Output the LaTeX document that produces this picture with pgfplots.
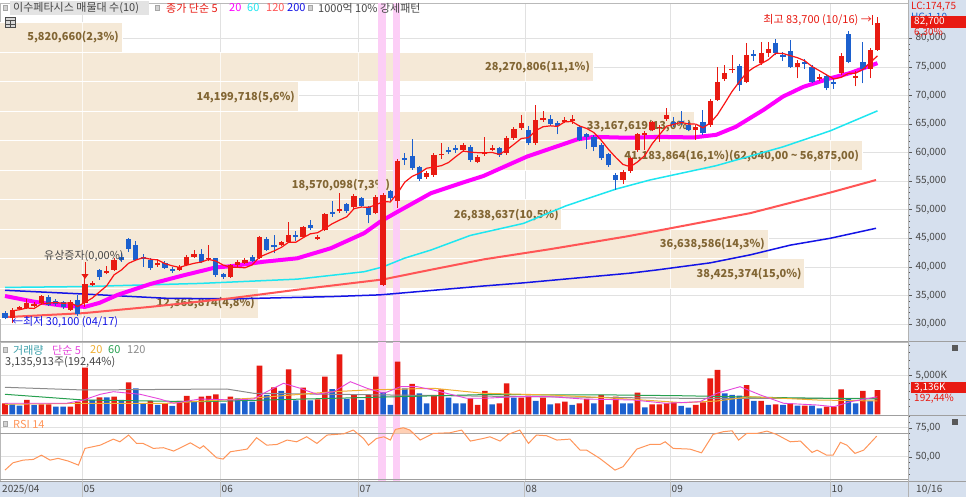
\documentclass[border=0pt]{standalone}
\usepackage{pgfplots}
\pgfplotsset{compat=1.18}
\usepackage{pgfplotstable}
\usepackage{fontspec}
\setmainfont{Noto Sans CJK KR}
\usetikzlibrary{arrows.meta}

\definecolor{cred}{RGB}{232,26,18}
\definecolor{cblue}{RGB}{28,96,206}
\definecolor{beige}{RGB}{245,233,215}
\definecolor{bandtxt}{RGB}{130,102,52}
\definecolor{cpink}{RGB}{252,206,246}
\definecolor{cpanel}{RGB}{214,224,238}
\definecolor{cgrid}{RGB}{225,225,225}
\definecolor{ma5}{RGB}{250,20,20}
\definecolor{ma20}{RGB}{255,0,255}
\definecolor{ma60}{RGB}{30,230,240}
\definecolor{ma120}{RGB}{255,85,85}
\definecolor{ma200}{RGB}{20,20,230}
\definecolor{txt}{RGB}{70,70,70}
\definecolor{vteal}{RGB}{60,160,170}
\definecolor{vmag}{RGB}{230,70,220}
\definecolor{vorange}{RGB}{240,175,50}
\definecolor{vgreen}{RGB}{40,160,80}
\definecolor{vgray}{RGB}{140,140,140}
\definecolor{rsi}{RGB}{255,150,90}

\newcommand\f{\fontsize{10}{12}\selectfont}
\newcommand\fk{\fontsize{11}{13}\selectfont}
\newcommand\fb{\fontsize{11}{13}\selectfont\bfseries}

% candles: i open high low close
\pgfplotstableread{
i o h l c
1 31000 32800 30100 32500
2 32600 33200 32400 33000
3 32800 34400 32600 33600
4 33100 33900 32900 33500
5 33600 35100 33400 34900
9 32500 34200 32300 33900
11 33600 38000 33000 37000
12 36900 37500 36600 37200
14 38900 40200 38700 39300
15 39500 41500 39300 41200
21 40300 41300 40000 40600
24 39500 40300 39300 40000
25 40300 42000 40100 41800
26 41800 42900 41500 42200
28 41300 43800 41000 41600
31 38300 40500 38100 40300
32 40400 41200 40000 40800
33 40700 41500 40500 41200
35 41500 45400 41300 45200
38 43900 44600 43700 44300
39 44400 47900 44200 45600
41 45200 47200 45000 47000
43 44900 45500 44700 45300
44 46500 49500 46300 49300
46 49700 52900 49500 50200
48 50400 52700 50200 52400
51 49400 52600 49200 52300
52 36800 53000 36600 52600
54 51500 58800 50300 58500
58 55800 56700 55400 56400
59 56100 59900 55800 59600
60 59500 61700 58900 59800
63 60500 61700 60200 61300
65 58400 59600 58100 59300
66 59700 62800 59400 60000
67 60500 61300 60200 60800
69 59900 62900 59600 62600
70 62500 64500 62200 64200
71 64300 66600 64000 65100
73 61700 68400 61400 65700
74 65700 67200 65400 66000
77 65400 66300 65100 65700
78 65500 66500 65000 65800
85 55200 57000 54500 56600
86 56800 59300 56500 59000
87 60400 63500 60100 63200
88 63100 63800 60500 63400
89 63900 65600 63700 65400
90 64300 64900 61900 64500
91 65900 67800 65600 66600
95 64000 64800 62200 64400
97 64800 69300 64500 69000
98 69200 75000 69000 72400
99 72900 75400 72500 74000
100 74400 77000 74000 74700
102 72400 79100 72100 77000
104 75600 79400 75300 77400
105 77400 79300 76800 78200
109 75000 76200 73000 75600
112 72900 73800 72500 73200
115 73900 77500 73500 76900
117 73100 74200 71600 73400
119 74700 78300 73000 78000
120 78000 83700 77800 82700
}\candup

\pgfplotstableread{
i o h l c
0 32000 32200 30800 31000
6 34800 35100 33100 33300
7 34000 34400 33200 33500
8 33900 34000 32700 32900
10 34200 35000 31400 31700
13 39400 39600 37700 38300
16 41800 42400 40900 41200
17 44900 45000 42600 43100
18 43800 44600 41000 41200
19 41700 42200 40000 41400
20 41200 41500 39500 39800
22 40600 41000 39600 39800
23 39700 39900 38900 39300
27 42200 43200 40600 40900
29 41500 41600 38300 38600
30 38700 39000 37900 38300
34 41700 42000 40800 41100
36 44800 45300 42800 43000
37 43800 45500 42400 43400
40 45500 46200 44500 45200
42 47300 48200 46500 46800
45 49600 51600 48800 49300
47 51000 51200 49400 49700
49 52000 52300 50500 50700
50 50400 50600 47600 49100
53 53200 53500 51600 52100
55 59000 59900 57800 58700
56 59400 62300 57000 57300
57 57500 57700 55100 55400
61 60400 61000 59700 60100
62 60800 61300 60000 60500
64 61000 61400 58400 58700
68 60800 61000 59300 59600
72 64000 64600 61300 61600
75 65800 66600 64600 65000
76 65100 65500 63200 64600
79 64500 64800 62000 62200
80 63200 63500 60600 62800
81 62800 63000 60200 61000
82 61400 61600 58700 59000
83 59700 60000 57500 57800
84 56000 56500 53500 55200
92 65400 66200 64500 64800
93 65500 67200 64800 65100
94 64800 65300 63700 64000
96 65400 67400 63100 63400
101 75200 75500 70800 71800
103 77200 78000 76000 76900
106 79100 79900 77000 77400
107 77100 77600 76000 76800
108 77800 79700 74800 75000
110 75900 76300 74600 75500
111 75000 75300 72100 72400
113 73400 73700 70900 71300
114 72300 73000 71200 72000
116 80700 81200 75600 75900
118 75900 79400 72100 74600
}\canddn

% volume in thousands of shares
\pgfplotstableread{
i v
0 1425
3 1852
5 1295
6 1295
9 984
10 1632
11 6035
13 2202
15 2279
17 4144
20 1722
22 1425
24 1722
25 2370
27 2279
28 2370
29 2590
31 2279
35 6294
37 3497
39 5828
41 3445
43 1943
44 4869
46 7770
48 2590
50 2499
51 4869
54 6812
56 3924
59 2499
60 3238
64 2072
65 1204
66 3017
68 1425
69 4015
71 2150
72 2409
74 2150
76 1425
77 1632
79 1425
80 1981
82 2499
84 2279
87 2797
89 1295
90 1295
91 1425
92 1554
95 1204
96 1554
97 4662
98 5737
102 3794
104 1722
106 1295
108 1425
110 1114
113 984
114 984
115 3238
118 3017
120 3136
}\volup

\pgfplotstableread{
i v
1 1295
2 1114
4 1204
7 984
8 984
12 1852
14 2202
16 1852
18 3367
19 1425
21 1204
23 1075
26 1722
30 1425
32 2072
33 2072
34 1632
36 2499
38 3017
40 1813
42 1813
45 3276
47 1981
49 1852
52 2849
53 1204
55 3367
57 2720
58 1425
61 2150
62 1425
63 1425
67 1295
70 2150
73 1722
75 1295
78 1204
81 1425
83 1295
85 1425
86 1425
88 906
93 1075
94 855
99 2720
100 2499
101 2409
103 1722
105 1204
107 1204
109 1114
111 1114
112 777
116 2072
117 1425
119 1722
}\voldn

\pgfplotsset{
  panel/.style={
    scale only axis, width=908pt,
    xmin=-0.688, xmax=124.2,
    xtick={10.6,29.6,48.6,71.5,91.5,113.5},
    xticklabels={},
    xmajorgrids, ymajorgrids,
    grid style={draw=cgrid, line width=0.6pt},
    axis line style={draw=gray!55},
    ytick pos=right, yticklabel pos=right,
    tick align=outside,
    major tick length=4pt, minor tick length=2pt,
    xtick style={draw=none},
    ytick style={draw=gray!70!black, line width=0.5pt},
    minor tick style={draw=gray!70!black, line width=0.4pt},
    yticklabel style={font=\f, text=txt},
  },
  wick/.style={draw=none, mark=none, forget plot,
    error bars/.cd, y dir=plus, y explicit, error mark=none,
    error bar style={draw=#1, line width=1pt}},
  body/.style={draw=none, mark=none, forget plot,
    error bars/.cd, y dir=plus, y explicit, error mark=none,
    error bar style={draw=#1, line width=5.2pt}},
  band/.style={fill=beige, draw=white, line width=1pt, forget plot},
  pinkband/.style={fill=cpink, draw=none, forget plot},
}

\begin{document}
\begin{tikzpicture}
\begin{scope}[x=1pt,y=1pt]
\fill[white] (0,0) rectangle (966,-497);
\fill[cpanel] (908,0) rectangle (966,-497);
\fill[cpanel] (0,-481) rectangle (966,-497);
\end{scope}

% ---------------- price panel ----------------
\begin{axis}[panel, name=price, at={(0pt,-3pt)}, anchor=north west, height=338pt,
  ymin=27025, ymax=86175,
  ytick={30000,35000,...,80000}, minor y tick num=4,
  scaled y ticks=false,
  /pgf/number format/fixed,
  /pgf/number format/1000 sep={,},
  /pgf/number format/assume math mode=true]

% volume-at-price bands
\addplot[band] coordinates {(-1,31050) (34.8,31050) (34.8,36215) (-1,36215)} --cycle;
\addplot[band] coordinates {(-1,36215) (110.0,36215) (110.0,41380) (-1,41380)} --cycle;
\addplot[band] coordinates {(-1,41380) (104.95,41380) (104.95,46545) (-1,46545)} --cycle;
\addplot[band] coordinates {(-1,46545) (76.6,46545) (76.6,51710) (-1,51710)} --cycle;
\addplot[band] coordinates {(-1,51710) (53.4,51710) (53.4,56875) (-1,56875)} --cycle;
\addplot[band] coordinates {(-1,56875) (117.9,56875) (117.9,62040) (-1,62040)} --cycle;
\addplot[band] coordinates {(-1,62040) (94.9,62040) (94.9,67205) (-1,67205)} --cycle;
\addplot[band] coordinates {(-1,67205) (40.3,67205) (40.3,72370) (-1,72370)} --cycle;
\addplot[band] coordinates {(-1,72370) (80.9,72370) (80.9,77535) (-1,77535)} --cycle;
\addplot[band] coordinates {(-1,77535) (16.1,77535) (16.1,82700) (-1,82700)} --cycle;

% month lines showing through the bands
\draw[white, opacity=0.75, line width=0.6pt]
  (axis cs:10.6,31050) -- (axis cs:10.6,82700)
  (axis cs:29.6,31050) -- (axis cs:29.6,77535)
  (axis cs:48.6,36215) -- (axis cs:48.6,67205)
  (axis cs:48.6,72370) -- (axis cs:48.6,77535)
  (axis cs:71.5,36215) -- (axis cs:71.5,51710)
  (axis cs:71.5,56875) -- (axis cs:71.5,67205)
  (axis cs:71.5,72370) -- (axis cs:71.5,77535)
  (axis cs:91.5,36215) -- (axis cs:91.5,46545)
  (axis cs:91.5,56875) -- (axis cs:91.5,67205)
  (axis cs:113.5,56875) -- (axis cs:113.5,62040);

\begin{scope}[every node/.style={font=\fb, text=bandtxt, anchor=east, inner sep=0pt, xshift=-3pt}]
\node at (axis cs:34.8,33632) {12,365,874(4,8\%)};
\node at (axis cs:110.0,38797) {38,425,374(15,0\%)};
\node at (axis cs:104.95,43962) {36,638,586(14,3\%)};
\node at (axis cs:76.6,49127) {26,838,637(10,5\%)};
\node at (axis cs:53.4,54292) {18,570,098(7,3\%)};
\node at (axis cs:117.9,59457) {41,183,864(16,1\%)(62,040,00 \textasciitilde{} 56,875,00)};
\node at (axis cs:94.9,64622) {33,167,619(13,0\%)};
\node at (axis cs:40.3,69787) {14,199,718(5,6\%)};
\node at (axis cs:80.9,74952) {28,270,806(11,1\%)};
\node at (axis cs:16.1,80117) {5,820,660(2,3\%)};
\end{scope}

\addplot[pinkband] coordinates {(51.3,27025) (52.4,27025) (52.4,86175) (51.3,86175)} --cycle;
\addplot[pinkband] coordinates {(53.4,27025) (54.3,27025) (54.3,86175) (53.4,86175)} --cycle;

% moving averages
\addplot[ma200, line width=1.5pt] coordinates {(0,35900) (10.8,35250) (22.2,34500) (31.4,34400) (45,34800) (51.6,35100) (65.8,36650) (71.3,37200) (86,38900) (89.6,39450) (97,40700) (102.5,42100) (108,43800) (113.5,45000) (119.8,46750)};
\addplot[ma120, line width=2pt] coordinates {(0,31200) (10.8,31900) (20,33000) (31,34500) (40.2,36000) (52,37800) (58.6,39500) (65.8,41300) (75,43100) (85.4,45300) (90.9,46600) (102.5,49400) (113.5,53000) (119.8,55200)};
\addplot[ma60, line width=1.5pt] coordinates {(0,36400) (10.8,36550) (26.8,37100) (40.2,37850) (49.4,39150) (52,40000) (54.9,41500) (58.6,42950) (64,45500) (71.3,47600) (77.2,50700) (84,53600) (88.7,55200) (97.8,57700) (107,61000) (113.5,63800) (120,67300)};
\addplot[ma20, line width=4pt] coordinates {(0,34900) (4,33900) (8,33200) (11,33000) (13,33700) (15.5,35100) (20,37000) (24.5,38500) (29,39900) (31,40100) (35.6,40900) (40.2,41500) (44.8,43250) (49.4,45900) (51.6,47900) (54,49650) (58.6,52900) (62.6,54600) (65.8,55900) (71.8,59300) (76.4,61300) (78.7,62300) (81,62750) (85.5,62600) (90,62750) (94.7,62650) (97.8,63100) (100.5,64500) (104.3,67450) (107,69800) (109.8,71500) (113.5,73000) (116.2,73900) (120,75650)};

% candles
\addplot[wick=cred] table[x=i, y=l, y error expr=\thisrow{h}-\thisrow{l}] {\candup};
\addplot[body=cred] table[x=i, y=o, y error expr=\thisrow{c}-\thisrow{o}] {\candup};
\addplot[wick=cblue] table[x=i, y=l, y error expr=\thisrow{h}-\thisrow{l}] {\canddn};
\addplot[body=cblue] table[x=i, y=c, y error expr=\thisrow{o}-\thisrow{c}] {\canddn};

\addplot[ma5, line width=1.2pt] coordinates {(1,32300) (2,32500) (3,32800) (4,32720) (5,33500) (6,33660) (7,33760) (8,33620) (9,33700) (10,33060) (11,33800) (12,34540) (13,35620) (14,36700) (15,38600) (16,39440) (17,40620) (18,41200) (19,41620) (20,41340) (21,41220) (22,40560) (23,40180) (24,39900) (25,40300) (26,40620) (27,40840) (28,41300) (29,41020) (30,40320) (31,39940) (32,39920) (33,39840) (34,40340) (35,41720) (36,42260) (37,42780) (38,43400) (39,44300) (40,44300) (41,45100) (42,45780) (43,45980) (44,46720) (45,47540) (46,48180) (47,48760) (48,50180) (49,50460) (50,50420) (51,50840) (52,51420) (53,51360) (54,52920) (55,54840) (56,55840) (57,56400) (58,57260) (59,57480) (60,57700) (61,58260) (62,59280) (63,60260) (64,60080) (65,59980) (66,59960) (67,60020) (68,59680) (69,60460) (70,61440) (71,62460) (72,62620) (73,63840) (74,64520) (75,64680) (76,64580) (77,65400) (78,65420) (79,64660) (80,64220) (81,63500) (82,62160) (83,60560) (84,59160) (85,57920) (86,57520) (87,58360) (88,59480) (89,61520) (90,63100) (91,64620) (92,64940) (93,65280) (94,65000) (95,64980) (96,64340) (97,65180) (98,66640) (99,68640) (100,70700) (101,72380) (102,73980) (103,74880) (104,75560) (105,76260) (106,77380) (107,77340) (108,76960) (109,76600) (110,76060) (111,75060) (112,74340) (113,73600) (114,72880) (115,73160) (116,73860) (117,73900) (118,74560) (119,75760) (120,76920)};
\end{axis}

% ---------------- volume panel ----------------
\begin{axis}[panel, name=vol, at={(price.south west)}, anchor=north west, yshift=-0.7pt, height=73.3pt,
  ymin=-91, ymax=9402,
  ytick={5000}, yticklabels={5{,}000K},
  minor ytick={1000,2000,3000,4000,6000,7000,8000,9000}]
\addplot[pinkband] coordinates {(51.3,-91) (52.4,-91) (52.4,9402) (51.3,9402)} --cycle;
\addplot[pinkband] coordinates {(53.4,-91) (54.3,-91) (54.3,9402) (53.4,9402)} --cycle;
\addplot[ybar, bar width=5.6pt, bar shift=0pt, fill=cred, draw=none] table[x=i, y=v] {\volup};
\addplot[ybar, bar width=5.6pt, bar shift=0pt, fill=cblue, draw=none] table[x=i, y=v] {\voldn};
\addplot[vgray, line width=1pt] coordinates {(0,3497) (10.8,3147) (30.5,3276) (34.2,2720) (45.2,2590) (65.8,2350) (93.3,2072) (120,2072)};
\addplot[vgreen, line width=1pt] coordinates {(0,2590) (10.8,1852) (26.8,1632) (45.2,2072) (65.8,2550) (84.1,2499) (93.3,2400) (107,2150) (120,1981)};
\addplot[vorange, line width=1pt] coordinates {(0,1295) (10.8,1425) (22.2,1425) (33.7,2072) (45.2,2927) (49.8,3147) (59,3367) (65.8,2720) (75,2500) (84.1,2072) (93.3,1502) (97.9,1722) (102.5,2279) (111.7,1852) (120,1722)};
\addplot[vmag, line width=0.9pt] coordinates {(0,1425) (8.5,1425) (10.8,1852) (13.1,2590) (14.9,2927) (18.6,2590) (21.3,1981) (23.2,1425) (26.8,1981) (31.4,1852) (34.2,1981) (36,2927) (38.3,4015) (40.6,3367) (42.9,2590) (45.2,2927) (47.5,4222) (49.8,3367) (52.1,2720) (54.4,3574) (56.7,3574) (58.9,3147) (63.5,2072) (65.8,2072) (70.4,2279) (75,2279) (79.5,1981) (86.4,1852) (90.9,1425) (95.6,1632) (97.9,2720) (101.1,3574) (103.9,2499) (107.1,1425) (111.7,1204) (114,984) (116.3,1632) (120,2279)};
\end{axis}

% ---------------- RSI panel ----------------
\begin{axis}[panel, name=rsi, at={(vol.south west)}, anchor=north west, height=66pt,
  ymin=29.1, ymax=86,
  ytick={50,75}, yticklabels={50{,}00,75{,}00},
  minor ytick={35,40,45,55,60,65,70,80,85}]
\addplot[pinkband] coordinates {(51.3,29.1) (52.4,29.1) (52.4,86) (51.3,86)} --cycle;
\addplot[pinkband] coordinates {(53.4,29.1) (54.3,29.1) (54.3,86) (53.4,86)} --cycle;
\addplot[gray!75, line width=1pt, forget plot] coordinates {(-1,70) (125,70)};
\addplot[gray!75, line width=1pt, forget plot] coordinates {(-1,30) (125,30)};
\addplot[fill=rsi!45, draw=none, forget plot] coordinates {(53.45,70) (53.7,73.6) (54.8,75) (55.7,73) (56.4,70)} --cycle;
\addplot[rsi, line width=1pt] coordinates {(0,38.5) (1.1,44.8) (2.5,47.1) (3.9,47.7) (5.0,51.4) (6.2,47.1) (7.3,48.6) (8.7,46.3) (10.1,42.8) (11.0,57.2) (13.1,60) (14.9,65.2) (15.8,62.9) (17.0,68.7) (18.1,61.5) (19.0,61.5) (20.4,57.2) (21.8,57.8) (23.2,54.9) (25.5,62) (26.8,57.2) (27.3,59.5) (29.1,49.1) (30.0,48) (31.0,54.3) (33.3,56.6) (34.6,66.4) (36.0,60) (37.4,60.6) (38.8,64.4) (40.1,62.9) (41.5,67.2) (42.9,61.5) (44.3,68.7) (46.6,69.8) (47.9,73) (49.3,65.8) (50.0,60) (51.1,65.8) (52.1,67.2) (53.0,64.4) (53.7,73.6) (54.8,75) (55.7,73) (57.1,64.4) (58.9,70.1) (61.2,70.7) (62.8,73) (64.0,63.5) (65.8,65.8) (66.7,67.2) (68.1,63.5) (69.2,69.3) (70.8,73) (72.0,61.5) (73.1,68.7) (74.5,68.1) (75.9,64.4) (77.7,65.2) (79.1,55.7) (80.0,55.7) (81.8,48.6) (83.9,38.5) (85.0,41.4) (86.9,56.6) (88.7,60.6) (90.1,60.6) (90.8,62.9) (91.9,57.2) (94.2,56.6) (95.8,53.4) (97.4,69.3) (98.8,71.6) (100.0,72.4) (100.9,64.4) (102.0,70.1) (103.4,70.1) (104.8,72.1) (106.1,69.3) (108.0,62.9) (109.4,63.5) (111.0,53.7) (111.7,55.7) (113.0,51.4) (113.9,51.4) (114.9,62.4) (115.8,60) (116.9,52.9) (118.1,55.7) (119.9,67.8)};
\end{axis}

\begin{scope}[x=1pt,y=1pt]
% ---------------- frame, separators ----------------
\draw[gray!75, line width=1pt] (0,-341.7) -- (966,-341.7);
\draw[gray!75, line width=1pt] (0,-415) -- (966,-415);
\draw[gray!75, line width=1pt] (0,-481) -- (966,-481);
\draw[gray!60, line width=0.8pt] (908,0) -- (908,-497);
\draw[gray!50, line width=0.6pt]
  (82,-481) -- (82,-497) (220,-481) -- (220,-497) (358,-481) -- (358,-497)
  (524,-481) -- (524,-497) (670,-481) -- (670,-497) (830,-481) -- (830,-497);

% ---------------- top legend ----------------
\fill[gray!22] (10,-1.5) rectangle (149,-15);
\filldraw[fill=gray!35, draw=gray!70] (3,-5.5) rectangle (7.5,-10);
\filldraw[fill=gray!35, draw=gray!70] (155,-5.5) rectangle (159.5,-10);
\filldraw[fill=gray!35, draw=gray!70] (308,-5.5) rectangle (312.5,-10);
\begin{scope}[every node/.style={font=\fk, anchor=west, inner sep=0pt}]
\node[text=txt] at (13,-8) {이수페타시스 매물대 수(10)};
\node[text=cred] at (166,-8) {종가 단순 5};
\node[text=ma20] at (229,-8) {20};
\node[text=ma60] at (247,-8) {60};
\node[text=ma120] at (266,-8) {120};
\node[text=ma200] at (287,-8) {200};
\node[text=txt] at (318,-8) {1000억 10\% 강세패턴};
\node[text=cred, anchor=east] at (872,-20) {최고 83,700 (10/16) →};
\node[text=ma200] at (12,-322) {←최저 30,100 (04/17)};
\node[text=txt] at (44,-256) {유상증자(0,00\%)};
\end{scope}
% table icon
\filldraw[fill=gray!30, draw=gray!60!black, line width=0.5pt] (5,-17.5) rectangle (15,-27.5);
\draw[gray!60!black, line width=0.4pt] (5,-20.5) -- (15,-20.5) (10,-20.5) -- (10,-27.5) (5,-24) -- (15,-24);
\draw[cred, line width=0.8pt] (872.5,-15) -- (872.5,-25);
\draw[cred, line width=0.8pt, -{Triangle[width=7pt,length=5pt]}] (85,-262) -- (85,-279);
% right price panel
\begin{scope}[every node/.style={font=\f, anchor=west, inner sep=0pt}]
\node[text=cred] at (911,-7) {LC:174,75};
\node[text=cblue] at (911,-18) {HC:1,10};
\end{scope}
\fill[cred] (911,-16.5) rectangle (966,-28);
\node[font=\f, text=white, anchor=west, inner sep=0pt] at (914,-22.2) {82,700};
\node[font=\f, text=cred, anchor=west, inner sep=0pt] at (914,-33) {6,30\%};

% ---------------- volume / RSI legends ----------------
\filldraw[fill=gray!35, draw=gray!70] (3,-347.5) rectangle (7.5,-352);
\filldraw[fill=gray!35, draw=gray!70] (3,-421.5) rectangle (7.5,-426);
\begin{scope}[every node/.style={font=\fk, anchor=west, inner sep=0pt}]
\node[text=vteal] at (13,-350) {거래량};
\node[text=vmag] at (52,-350) {단순 5};
\node[text=vorange] at (90,-350) {20};
\node[text=vgreen] at (108,-350) {60};
\node[text=vgray] at (127,-350) {120};
\node[text=txt] at (5,-362) {3,135,913주(192,44\%)};
\node[text=rsi] at (13,-424) {RSI 14};
\end{scope}
\fill[cred] (911,-382) rectangle (966,-393);
\node[font=\f, text=white, anchor=west, inner sep=0pt] at (914,-387.5) {3,136K};
\node[font=\f, text=cred, anchor=west, inner sep=0pt] at (914,-398.5) {192,44\%};
\fill[gray!70!black] (952,-345) rectangle (958,-351);
\fill[gray!70!black] (952,-418.5) rectangle (958,-424.5);

% ---------------- date axis ----------------
\begin{scope}[every node/.style={font=\f, anchor=west, inner sep=0pt, text=txt}]
\node at (2,-489) {2025/04};
\node at (83.5,-489) {05};
\node at (221.5,-489) {06};
\node at (359.5,-489) {07};
\node at (525.5,-489) {08};
\node at (671.5,-489) {09};
\node at (831.5,-489) {10};
\node at (916,-489) {10/16};
\end{scope}
\end{scope}
\pgfresetboundingbox
\path[use as bounding box] (0pt,0pt) rectangle (966pt,-497pt);
\end{tikzpicture}
\end{document}
